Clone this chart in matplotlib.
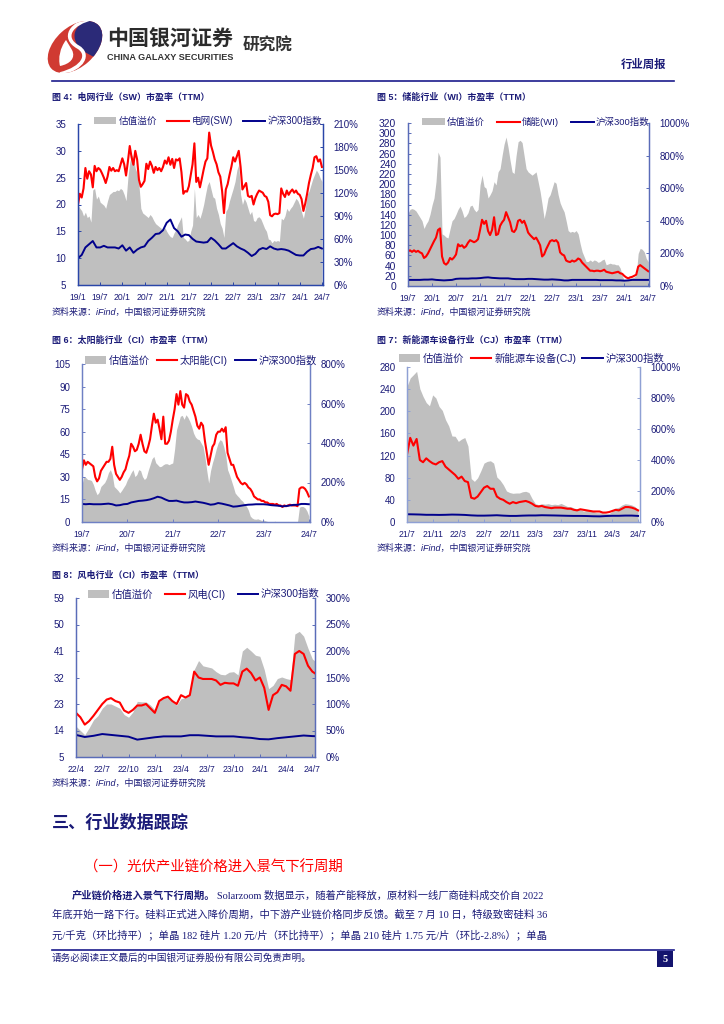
import numpy as np
import matplotlib
matplotlib.use("Agg")
import matplotlib.pyplot as plt
from matplotlib.patches import Ellipse, Rectangle, PathPatch
from matplotlib.path import Path

plt.rcParams['font.family'] = ['Liberation Sans', 'Noto Sans CJK SC']
plt.rcParams['axes.unicode_minus'] = False

# ---------- data (PE values on the left scale, premium in % on the right scale) ----------
labels_4 = ['19/1','19/7','20/1','20/7','21/1','21/7','22/1','22/7','23/1','23/7','24/1','24/7']
red_4 = [20,22,21.3,23,26.8,24.8,26.2,25.6,23.2,27.2,26.2,26.8,26.5,25.8,25,24,25.2,27,26.3,26.8,26.2,26.4,26.2,27.4,
         28.6,27.5,25.4,28,30.9,28.8,27.4,30,28.4,24.6,23.3,23.8,24.4,27.6,26.6,28,27.2,25.9,27,26.4,26.8,26.2,27,28.2,
         27.6,28.8,27.4,28.5,26.8,28.4,28.2,28.6,26,22,22.5,22.4,23.4,25.5,27.5,31.4,24.2,25,23.2,24.8,26.5,28,28.6,33.4,
         31,29.8,28.4,27.5,26,25.2,22.5,18.4,22.8,23.8,25.5,27,28.8,28,29,30,27,22.8,23.4,24,21.6,21.4,21.6,20,
         21.2,22,22.6,22.4,22.2,21.6,21.4,20.5,18,17.8,18.2,18.3,18.2,18.4,23,22,21.4,22.6,21.8,22.4,22.8,22.2,22.6,22,
         21.8,21,18.8,20.2,22,24,25.5,26.8,28.8,29,28,28.4,27]
gray_4 = [105,100,97,90,95,88,90,82,124,126,112,116,108,106,104,100,110,118,120,122,122,124,123,126,
          124,118,110,140,160,170,166,152,146,130,100,94,92,90,88,92,89,84,80,78,76,74,72,75,
          70,66,63,62,68,72,79,84,89,62,60,57,58,70,78,126,88,92,87,95,105,118,130,135,
          125,115,113,100,92,80,74,62,96,100,110,118,126,135,150,157,118,105,113,108,100,92,96,84,
          83,88,89,86,80,74,70,60,59,55,58,57,58,57,87,85,90,100,96,100,103,108,113,110,
          104,95,87,100,118,122,130,138,144,150,146,140,135]
hs_4 = [10,10.6,12,12.6,13.2,12,12,12.3,12,12,12,11.8,12.4,11.4,12,11,11.6,12,12.2,13.2,13.8,14.5,14.6,15.2,16.6,17.2,
        15.6,15,14,14.4,14.3,13.6,13.1,13,12.9,13,13.8,13.3,12.6,11.8,11.8,12.3,12.8,12.2,11.8,11.5,11,10.4,10.8,11.6,
        11.9,11.7,12.2,11.8,11.6,11.7,11.6,11.4,11,10.6,10.5,10.5,11.2,11.7,11.8,12.1,11.8]

labels_5 = ['19/7','20/1','20/7','21/1','21/7','22/1','22/7','23/1','23/7','24/1','24/7']
red_5 = [68,70,67,70,67,69,66,64,55,58,64,72,80,88,95,110,113,58,45,42,46,55,52,56,62,82,78,80,75,78,85,90,
         88,86,88,92,110,130,122,128,108,100,110,135,100,102,118,125,130,145,135,125,108,106,112,128,
         130,124,128,118,105,100,96,92,95,88,80,58,62,72,80,88,90,88,90,85,66,62,60,50,48,47,50,48,50,54,52,46,
         42,38,34,30,30,29,30,30,29,30,32,28,27,26,25,26,27,28,25,24,20,17,15,17,18,20,22,38,41,38,35,32,29]
gray_5 = [445,470,475,470,460,440,420,400,353,380,400,440,496,540,640,822,790,320,312,300,295,350,400,414,
          440,470,490,460,420,430,450,490,496,470,455,470,620,680,610,600,540,560,585,640,620,700,720,800,
          870,914,850,770,700,690,800,885,894,880,800,720,700,690,680,690,700,640,580,500,414,470,540,560,
          600,640,630,560,510,480,455,400,340,330,335,330,340,320,260,210,180,150,150,160,150,160,155,145,
          150,160,165,130,135,140,135,135,130,130,110,65,35,40,35,50,50,55,65,200,231,225,210,170,149]
hs_5 = [12,12,12,12,12.5,12.5,13,12,11.5,11,11.5,12,14,14.5,14.5,14.5,15,15,15.5,16.5,17,16,15.5,15,15,15,14,13.5,13.5,13.5,
        14,14,13.5,13,12.5,12.5,13,12.5,12,11,11,12,12,12,12,12,12,12,11.5,11.5,11.5,11.5,11,11,10.5,11,12,12,12,12,12]

labels_6 = ['19/7','20/7','21/7','22/7','23/7','24/7']
red_6 = [35,41,38,40,39,38,37,30,27,29,34,36,38,40,40,42,50,38,32,30,28,30,33,35,40,44,52,50,47,48,52,58,
         52,47,46,50,55,64,72,66,68,62,55,70,52,52,54,60,68,75,85,78,87,78,76,85,84,80,78,74,70,64,62,66,
         64,54,46,38,44,50,52,58,60,60,62,60,63,46,42,38,38,34,30,28,26,25,26,25,23,22,20,17,16,15,15,14,
         14,13,13,12,12,12,11.5,12,11,11,10,11,10.5,11,11.5,11,11,11,10.5,22,23,23,22,20,17]
gray_6 = [190,231,225,215,214,210,190,160,138,150,180,190,200,220,250,265,240,180,170,160,147,160,175,190,
          214,230,250,265,230,240,265,260,230,215,225,260,290,320,332,300,290,280,282,290,295,295,290,295,
          299,370,467,500,535,540,520,543,530,510,484,450,430,420,417,400,383,330,260,197,260,300,332,370,
          400,417,410,380,340,265,240,210,180,147,135,125,113,105,90,79,60,30,20,15,14,16,12,8,
          10,6,3,0,0,0,4,0,0,0,2,0,0,3,0,0,0,0,0,75,79,78,71,55,29]
hs_6 = [12,11.8,12,11.8,11.8,11.8,12,12.2,11.8,11,11.2,11.8,12,13,13.5,14,14.2,14.5,15,15.8,16.8,16.2,15,14,14,14.2,13.5,13,13,13.2,
        13.6,13.2,12.8,12.2,11.5,11.8,12.6,12.2,11.6,11,10.2,10.4,10.8,11.2,11.5,11.6,11.8,11.8,11.8,11.6,11.2,11,10.8,10.4,10.6,11,11.4,11.4,12,12,11.8]

labels_7 = ['21/7','21/11','22/3','22/7','22/11','23/3','23/7','23/11','24/3','24/7']
red_7 = [122,152,138,150,112,108,115,110,106,104,108,110,100,95,90,85,78,82,74,72,44,42,46,54,62,65,60,60,46,42,40,36,
         33,36,34,36,37,38,36,33,29,28,29,27,26,25,26,26,26,25,24,24,22,21,23,22,21,20,19,19,19,17,17,18,20,22,21,24,27,27,26,24,21]
gray_7 = [875,929,950,972,860,810,770,750,820,800,745,720,660,620,555,553,520,535,545,490,280,262,285,330,
          380,391,395,380,290,270,240,200,190,185,187,187,195,198,190,150,118,112,118,115,118,112,115,112,
          120,110,100,100,90,85,80,70,75,80,70,60,60,58,55,55,70,90,95,110,118,115,110,100,80]
hs_7 = [14,13.8,13.5,13,13,12.8,13,13.4,13.2,12.8,12,11.5,11.5,11.8,12.2,11.5,11,11,11.5,11.8,11.8,12.2,12,11.8,11.5,11.2,11,11,10.8,10.4,10.2,10.8,11.2,11.2,11.6,11.6,11]

labels_8 = ['22/4','22/7','22/10','23/1','23/4','23/7','23/10','24/1','24/4','24/7']
red_8 = [20,18.5,16,17.2,19,21,23,24.5,25,24,23.5,20.8,20,21,22.5,22.5,23,21.5,20,24,25,25.5,24,23,26,25.2,26,34,
         32,31.5,31.5,31.5,31,29.5,30.2,30,30,29.2,34,35,33.5,31,32,28.5,21,26,27,29.5,29,27.5,40,41,40,36,34,33]
gray_8 = [58,50,42,55,70,78,92,100,100,96,92,80,75,85,105,104,104,98,89,105,114,112,104,98,110,112,118,165,
          182,172,170,168,161,156,155,160,161,155,200,207,200,192,190,165,129,135,148,151,148,146,232,237,228,205,185,178]
hs_8 = [12.5,11.8,12.2,12.8,12.5,12.2,11.9,10.9,11.3,11.7,12,12,12,12.4,12.4,12.2,12,12,12,11.7,11.5,11.1,11,11.4,11.7,12,12.3,12.1,12]

legend_4 = ['估值溢价', '电网(SW)', '沪深300指数']
legend_5 = ['估值溢价', '储能(WI)', '沪深300指数']
legend_6 = ['估值溢价', '太阳能(CI)', '沪深300指数']
legend_7 = ['估值溢价', '新能源车设备(CJ)', '沪深300指数']
legend_8 = ['估值溢价', '风电(CI)', '沪深300指数']

NAVY = '#1b1b78'
W, H = 724, 1024
fig = plt.figure(figsize=(W/100, H/100), dpi=100, facecolor='white')

page = fig.add_axes([0, 0, 1, 1], zorder=1)
page.set_xlim(0, W); page.set_ylim(H, 0); page.axis('off')

SRC = '资料来源：iFind，中国银河证券研究院'

def chart(box, title, tx, ty, sy, labels, tick_every, red, gray, hs, leg, legpos, legfs, hlen, cspace, xmax,
          ylim, ystep, rmax, rstep, spine, yfs=7, lstep=0.5):
    l, t, r, b = box
    ax2 = fig.add_axes([l/W, 1-b/H, (r-l)/W, (b-t)/H], zorder=2)
    ax = fig.add_axes([l/W, 1-b/H, (r-l)/W, (b-t)/H], zorder=3, sharex=ax2)
    ax.patch.set_visible(False)
    ax2.fill_between(np.arange(len(gray))*lstep, 0, gray, color='#bfbfbf', lw=0, label=leg[0])
    h_r, = ax.plot(np.arange(len(red))*lstep, red, color='#ff0000', lw=1.5, label=leg[1])
    h_b, = ax.plot(np.arange(len(hs)), hs, color='#00008c', lw=1.4, label=leg[2])
    ax.set_xlim(0, xmax)
    ax.set_ylim(*ylim)
    ax2.set_ylim(0, rmax)
    ax.set_yticks(np.arange(ylim[0], ylim[1]+0.1, ystep))
    ax2.yaxis.tick_right()
    ax2.set_yticks(np.arange(0, rmax+0.1, rstep))
    ax2.set_yticklabels([f'{int(v)}%' for v in np.arange(0, rmax+0.1, rstep)])
    ax.set_xticks(np.arange(len(labels))*tick_every)
    ax.set_xticklabels(labels)
    plt.setp(ax2.get_xticklabels(), visible=False)
    ax2.tick_params(axis='x', length=0)
    ax.tick_params(axis='x', direction='in', length=2.2, width=0.7, color=spine, labelsize=6.2, labelcolor=NAVY, pad=5.5)
    ax.tick_params(axis='y', direction='in', length=2.2, width=0.7, color=spine, labelsize=yfs, labelcolor=NAVY, pad=8.5)
    ax2.tick_params(axis='y', direction='in', length=2.2, width=0.7, color=spine, labelsize=7, labelcolor=NAVY, pad=7.5)
    for a in (ax, ax2):
        for s in a.spines.values():
            s.set_color(spine); s.set_linewidth(0.9)
        a.spines['top'].set_visible(False)
    handles = [ax2.collections[0], h_r, h_b]
    ax.legend(handles, leg, ncol=3, loc='center', bbox_to_anchor=legpos, bbox_transform=page.transData,
              frameon=False, fontsize=legfs, labelcolor=NAVY, handlelength=hlen, handleheight=0.75,
              columnspacing=cspace, handletextpad=0.25, borderpad=0, borderaxespad=0)
    page.text(tx, ty, title, fontsize=6.45, fontweight='bold', color=NAVY, va='center', ha='left')
    page.text(tx, sy, SRC, fontsize=6.45, color=NAVY, va='center', ha='left', style='italic')

chart((78,124,323,285), '图 4：电网行业（SW）市盈率（TTM）', 52, 97, 312, labels_4, 6, red_4, gray_4, hs_4,
      legend_4, (208,121), 6.9, 2.3, 1.05, 66.3, (5,35), 5, 210, 30, '#2a46a8')
chart((408,123,649,286), '图 5：储能行业（WI）市盈率（TTM）', 377, 97, 312, labels_5, 6, red_5, gray_5, hs_5,
      legend_5, (536,122), 6.8, 2.4, 1.25, 60.2, (0,320), 20, 1000, 200, '#5a6cb8', yfs=7.4)
chart((82,364,310,522), '图 6：太阳能行业（CI）市盈率（TTM）', 52, 340, 548, labels_6, 12, red_6, gray_6, hs_6,
      legend_6, (201,360), 7.4, 2.0, 0.7, 60.3, (0,105), 15, 800, 200, '#6f80c4')
chart((407,367,640,522), '图 7：新能源车设备行业（CJ）市盈率（TTM）', 377, 340, 548, labels_7, 4, red_7, gray_7, hs_7,
      legend_7, (532,358), 7.5, 2.0, 0.6, 36.3, (0,280), 40, 1000, 200, '#8fa0d4')
chart((76,598,315,757), '图 8：风电行业（CI）市盈率（TTM）', 52, 575, 783, labels_8, 3, red_8, gray_8, hs_8,
      legend_8, (204,594), 7.5, 1.95, 1.15, 27.3, (5,59), 9, 300, 50, '#5a6cb8')

# ---------- page furniture ----------
logo = Ellipse((75,47), 64, 40, angle=-42, fc='#d03a32', ec='none')
page.add_patch(logo)
navy = PathPatch(Path([(94,18),(72,24),(70,38),(81,50),(92,56),(100,60),(110,40),(110,18),(94,18)],
                      [Path.MOVETO,Path.CURVE4,Path.CURVE4,Path.CURVE4,Path.LINETO,Path.LINETO,Path.LINETO,Path.LINETO,Path.CLOSEPOLY]),
                 fc='#2b2a78', ec='none')
page.add_patch(navy); navy.set_clip_path(logo)
s_curve = PathPatch(Path([(94,18),(70,23),(62,38),(78,47),(90,54),(84,68),(60,74)],
                         [Path.MOVETO,Path.CURVE4,Path.CURVE4,Path.CURVE4,Path.CURVE4,Path.CURVE4,Path.CURVE4]),
                    fc='none', ec='white', lw=2.6)
page.add_patch(s_curve); s_curve.set_clip_path(logo)
inner = PathPatch(Path([(66,40),(60,48),(58,58),(60,66),(70,64),(76,58),(72,50),(66,40)],
                       [Path.MOVETO,Path.CURVE4,Path.CURVE4,Path.CURVE4,Path.CURVE4,Path.CURVE4,Path.CURVE4,Path.CLOSEPOLY]),
                  fc='white', ec='none')
page.add_patch(inner)
page.text(107, 39, '中国银河证券', fontsize=15.1, fontweight='bold', color='#2b2b2b', va='center', ha='left')
page.text(107, 57, 'CHINA GALAXY SECURITIES', fontsize=6.6, fontweight='bold', color='#333333', va='center', ha='left')
page.text(243, 46, '研究院', fontsize=12, fontweight='bold', color='#333333', va='center', ha='left')
page.text(666, 64, '行业周报', fontsize=8.2, fontweight='bold', color=NAVY, va='center', ha='right')
page.plot([52,674],[80.5,80.5], color='#1b1b8c', lw=1.2)

page.text(52, 822, '三、行业数据跟踪', fontsize=12.3, fontweight='bold', color=NAVY, va='center', ha='left')
page.text(84, 867, '（一）光伏产业链价格进入景气下行周期', fontsize=10.4, color='#ff0000', va='center', ha='left')

body_fam = ['Liberation Serif', 'Noto Sans CJK SC']
page.text(72, 896, '产业链价格进入景气下行周期。', fontsize=7.4, fontweight='bold', color=NAVY, va='center', ha='left')
page.text(217, 896, 'Solarzoom 数据显示，随着产能释放，原材料一线厂商硅料成交价自 2022', fontsize=7.4, family=body_fam, color=NAVY, va='center', ha='left')
page.text(52, 915, '年底开始一路下行。硅料正式进入降价周期，中下游产业链价格同步反馈。截至 7 月 10 日，特级致密硅料 36', fontsize=7.45, family=body_fam, color=NAVY, va='center', ha='left')
page.text(52, 935, '元/千克（环比持平）；单晶 182 硅片 1.20 元/片（环比持平）；单晶 210 硅片 1.75 元/片（环比-2.8%）；单晶', fontsize=7.45, family=body_fam, color=NAVY, va='center', ha='left')

page.plot([52,674],[950,950], color='#1b1b8c', lw=1.2)
page.text(52, 958, '请务必阅读正文最后的中国银河证券股份有限公司免责声明。', fontsize=6.9, color=NAVY, va='center', ha='left')
page.add_patch(Rectangle((657,951), 16, 16, fc='#14146e', ec='none'))
page.text(665, 959, '5', fontsize=7.5, fontweight='bold', color='white', va='center', ha='center', family='Liberation Serif')

fig.savefig('out.png', dpi=100)
